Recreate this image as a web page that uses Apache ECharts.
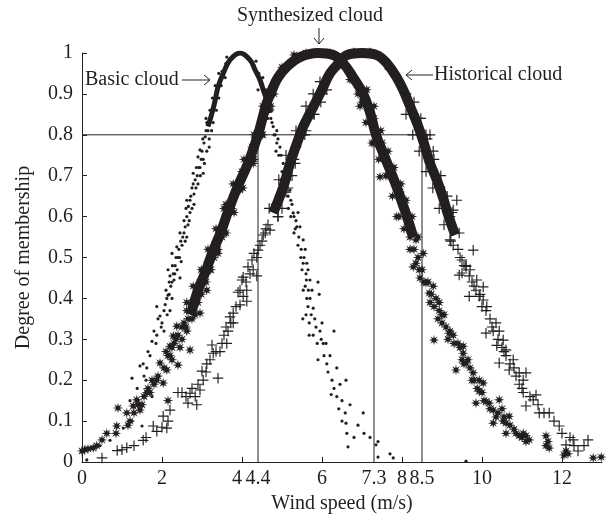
<!DOCTYPE html>
<html>
<head>
<meta charset="utf-8">
<script src="https://cdn.jsdelivr.net/npm/echarts@6/dist/echarts.min.js"></script>
<style>
  html, body { margin: 0; padding: 0; background: #fff; }
  #main { width: 612px; height: 526px; }
</style>
</head>
<body>
<div id="main"></div>
<script>
// axis ticks / labels
var xTickValues = [0, 2, 4, 6, 8, 10, 12];
var xLabelValues = [0, 2, 4, 4.4, 6, 7.3, 8, 8.5, 10, 12];
var cutLevel = 0.8;
var cutX = [4.4, 7.3, 8.5];

// basic cloud (dots)
var basicCore = [[3.15,0.82],[3.25,0.853],[3.33,0.885],[3.4,0.917],[3.53,0.95],[3.7,0.983],[3.95,1.0],[4.2,0.983],[4.33,0.958],[4.45,0.934],[4.53,0.91],[4.62,0.885],[4.7,0.853]];
var basicDrops = [
  [3.6,0.975],[3.8,0.995],[4.1,0.995],[4.3,0.97],[3.45,0.93],[3.3,0.87],[3.22,0.84],[4.5,0.92],[4.58,0.895],[4.66,0.87],[3.35,0.9],[3.5,0.955],
  [3.2,0.86],[3.28,0.83],[3.36,0.86],[3.26,0.89],[3.42,0.89],[3.33,0.92],[3.48,0.92],[3.42,0.95],[3.58,0.94],[3.62,0.99],[4.35,0.98],[4.42,0.95],
  [4.4,0.91],[4.52,0.94],[4.6,0.91],[4.56,0.87],[4.68,0.89],[4.64,0.84],[4.75,0.86],[3.18,0.79],[3.24,0.81],[3.1,0.84],
  [3.15,0.81],[3.08,0.795],[3.12,0.83],[3.05,0.78],[3.18,0.77],[3.0,0.76],[2.95,0.763],[3.03,0.74],[2.9,0.746],[3.03,0.706],[2.95,0.72],[2.88,0.7],
  [2.78,0.706],[2.83,0.69],[2.9,0.68],[2.75,0.67],[2.8,0.655],[2.7,0.64],[2.66,0.625],[2.75,0.62],[2.62,0.64],[2.62,0.6],[2.68,0.59],[2.58,0.575],
  [2.55,0.56],[2.62,0.55],[2.45,0.56],[2.5,0.53],[2.42,0.52],[2.37,0.526],[2.4,0.5],[2.48,0.49],[2.33,0.48],[2.25,0.51],[2.28,0.46],[2.3,0.445],
  [2.2,0.455],[2.45,0.45],[2.15,0.47],[2.22,0.43],[2.15,0.408],[2.12,0.4],[2.2,0.37],[2.08,0.385],
  [3.1,0.81],[3.02,0.79],[3.12,0.76],[2.98,0.74],[3.06,0.73],[2.92,0.72],[2.86,0.72],[2.96,0.7],[2.85,0.67],[2.78,0.68],[2.72,0.65],[2.8,0.63],
  [2.7,0.61],[2.6,0.62],[2.65,0.58],[2.55,0.59],[2.52,0.55],[2.58,0.54],[2.47,0.54],[2.44,0.5],[2.35,0.5],[2.38,0.47],[2.26,0.48],[2.32,0.46],
  [2.25,0.44],[2.18,0.44],[2.18,0.41],[2.1,0.42],[2.25,0.4],[2.05,0.37],[2.13,0.36],[1.98,0.33],[2.05,0.32],[1.9,0.35],[1.85,0.29],[1.7,0.26],
  [1.62,0.23],[1.55,0.21],[1.38,0.18],[1.2,0.15],
  [1.95,0.357],[2.0,0.34],[1.87,0.38],[1.87,0.31],[1.8,0.32],[1.75,0.295],[1.65,0.27],[1.53,0.24],[1.45,0.235],[1.25,0.205],[1.75,0.16],[1.5,0.088],
  [1.25,0.1],[1.03,0.083],[0.7,0.053],[0.45,0.04],[0.3,0.035],[0.2,0.034],[0.12,0.005],[0.05,0.03],[1.6,0.2],[1.4,0.15],
  [4.75,0.83],[4.8,0.8],[4.87,0.81],[4.87,0.78],[4.95,0.77],[4.92,0.75],[5.03,0.73],[5.0,0.71],[5.08,0.7],[5.12,0.68],[5.2,0.665],[5.15,0.65],
  [5.25,0.63],[5.28,0.609],[5.22,0.6],[5.35,0.59],[5.37,0.575],[5.3,0.56],[5.45,0.575],[5.42,0.55],[5.53,0.543],[5.48,0.52],[5.55,0.5],[5.53,0.486],
  [4.72,0.84],[4.78,0.82],[4.83,0.8],[4.9,0.79],[4.85,0.76],[4.98,0.75],[5.05,0.71],[4.97,0.69],[5.1,0.67],[5.18,0.69],[5.22,0.64],[5.16,0.62],
  [5.3,0.6],[5.4,0.61],[5.33,0.57],[5.4,0.53],[5.47,0.5],[5.58,0.52],[5.5,0.47],[5.65,0.47],[5.58,0.43],[5.75,0.42],[5.62,0.4],[5.73,0.36],
  [5.6,0.36],[5.82,0.35],[5.88,0.29],[6.05,0.26],[6.15,0.22],[6.3,0.18],[6.42,0.13],[6.5,0.1],[6.7,0.14],[6.8,0.06],
  [5.62,0.486],[5.6,0.46],[5.53,0.42],[5.61,0.445],[5.7,0.445],[5.66,0.42],[5.7,0.4],[5.78,0.376],[5.65,0.38],[5.9,0.44],[5.93,0.41],[5.52,0.35],
  [5.68,0.34],[5.68,0.31],[5.78,0.31],[5.85,0.33],[5.95,0.32],[5.98,0.3],[6.0,0.34],[6.03,0.29],[6.1,0.29],[5.9,0.25],[6.12,0.24],[6.2,0.26],
  [6.3,0.32],[6.25,0.2],[6.23,0.165],[6.37,0.23],[6.37,0.16],[6.45,0.19],[6.5,0.15],[6.6,0.2],[6.58,0.12],[6.6,0.095],[6.62,0.07],[6.65,0.037],
  [6.9,0.09],[7.03,0.12],[7.05,0.07],[7.2,0.06],[7.35,0.042],[7.4,0.05],[7.4,0.012],[7.7,0.02],[7.78,0.01],[9.6,0.002]
];

// synthesized cloud (asterisks)
var synthCore = [[2.72,0.36],[2.9,0.42],[3.1,0.468],[3.27,0.515],[3.47,0.562],[3.66,0.615],[3.9,0.675],[4.15,0.73],[4.4,0.8],[4.5,0.836],[4.62,0.878],[4.75,0.91],[4.9,0.94],[5.12,0.966],[5.45,0.99],[5.9,1.0],[6.28,0.995],[6.53,0.975],[6.78,0.94],[7.03,0.9],[7.2,0.855],[7.35,0.8],[7.53,0.755],[7.7,0.714],[7.87,0.672],[8.0,0.635],[8.15,0.592],[8.28,0.55]];
var synthDrops = [
  [2.98,0.47],[3.22,0.47],[3.15,0.52],[3.4,0.51],[3.35,0.57],[3.6,0.56],[3.55,0.62],[3.8,0.61],[3.78,0.68],[4.02,0.67],[4.05,0.74],[4.28,0.73],
  [4.3,0.8],[4.52,0.8],[4.52,0.87],[4.72,0.87],[2.62,0.37],[2.82,0.36],[2.78,0.43],[2.98,0.41],
  [7.12,0.91],[6.95,0.87],[7.3,0.87],[7.1,0.83],[7.47,0.81],[7.25,0.78],[7.65,0.76],[7.42,0.74],[7.8,0.72],[7.6,0.7],[7.97,0.68],[7.76,0.65],
  [8.1,0.64],[7.92,0.6],[8.25,0.6],[8.05,0.57],[8.4,0.55],[8.2,0.52],
  [3.55,0.56],[3.75,0.62],[3.6,0.63],[3.95,0.665],[4.0,0.71],[4.25,0.77],[4.3,0.74],[4.55,0.85],[4.5,0.8],[4.8,0.9],[5.0,0.965],[5.3,0.995],
  [5.6,1.0],[6.2,1.0],[6.5,0.985],[6.7,0.935],[6.9,0.9],[7.0,0.88],[7.3,0.84],[7.3,0.78],[7.45,0.697],[7.5,0.78],[7.65,0.7],[7.6,0.74],
  [7.8,0.69],[7.87,0.6],[7.95,0.66],[8.1,0.61],[8.18,0.567],[8.35,0.543],[8.28,0.477],
  [8.2,0.55],[8.3,0.52],[8.4,0.5],[8.45,0.45],[8.5,0.47],[8.55,0.44],[8.65,0.44],[8.7,0.39],[8.8,0.38],[8.85,0.4],[8.9,0.35],[9.0,0.36],
  [9.1,0.33],[9.15,0.3],[9.2,0.32],[9.3,0.29],[9.45,0.28],[9.5,0.25],[9.55,0.24],[9.7,0.23],[9.8,0.2],[9.88,0.18],[10.0,0.17],[10.05,0.15],
  [10.2,0.13],[10.35,0.11],[10.4,0.12],[10.55,0.11],[10.7,0.09],[10.8,0.08],[11.0,0.06],[11.1,0.05],[11.65,0.05],[12.15,0.02],
  [8.35,0.486],[8.43,0.47],[8.53,0.51],[8.6,0.438],[8.68,0.413],[8.73,0.41],[8.78,0.43],[8.8,0.298],[8.93,0.39],[8.93,0.37],[9.0,0.34],[9.05,0.36],
  [9.18,0.315],[9.28,0.31],[9.35,0.225],[9.4,0.29],[9.53,0.283],[9.53,0.266],[9.6,0.242],[9.65,0.25],[9.78,0.218],[9.75,0.2],[9.85,0.144],[9.93,0.2],
  [9.93,0.173],[10.03,0.193],[10.1,0.148],[10.18,0.144],[10.28,0.127],[10.28,0.095],[10.43,0.152],[10.5,0.13],[10.53,0.1],[10.6,0.095],[10.68,0.112],[10.6,0.07],
  [10.85,0.07],[10.93,0.064],[11.03,0.07],[11.1,0.064],[11.18,0.054],[11.6,0.064],[11.6,0.04],[11.68,0.034],[12.05,0.017],[12.1,0.027],[12.78,0.01],[12.98,0.012],
  [0.0,0.027],[0.07,0.03],[0.15,0.032],[0.28,0.034],[0.37,0.04],[0.5,0.054],[0.62,0.07],[0.85,0.07],[0.87,0.088],[0.9,0.132],[1.12,0.12],[1.15,0.09],
  [1.2,0.1],[1.28,0.137],[1.37,0.152],[1.3,0.12],[1.45,0.127],[1.5,0.14],[1.62,0.17],[1.7,0.17],[1.8,0.19],[1.87,0.2],[1.95,0.242],[2.03,0.193],
  [2.12,0.225],[2.15,0.15],[2.15,0.26],[2.2,0.283],[2.28,0.308],[2.37,0.332],[2.4,0.237],[2.45,0.28],[2.62,0.32],[2.7,0.274],[2.62,0.39],[2.78,0.38],
  [2.95,0.364],[2.95,0.438],[3.12,0.42],[3.2,0.47],[3.4,0.52],[2.5,0.33],[2.1,0.27],[2.25,0.25],
  [2.3,0.29],[2.35,0.3],[2.4,0.31],[2.5,0.3],[2.55,0.34],[2.6,0.33],[2.65,0.35],[2.75,0.35],[2.8,0.39],[2.85,0.4],[2.9,0.39],[3.0,0.44],
  [3.05,0.45],[3.1,0.44],[3.15,0.49],[3.22,0.5],[3.3,0.5],[3.35,0.54],[3.45,0.57],[3.5,0.55],[2.2,0.26],[2.05,0.23],[1.9,0.21],[1.75,0.2],
  [1.65,0.18],[1.55,0.16],[1.4,0.14],[2.25,0.28]
];

// historical cloud (plus)
var histCore = [[4.78,0.609],[5.03,0.672],[5.2,0.73],[5.45,0.8],[5.53,0.82],[5.7,0.853],[5.87,0.885],[6.03,0.917],[6.2,0.95],[6.37,0.97],[6.62,0.995],[7.0,1.0],[7.37,0.995],[7.62,0.975],[7.87,0.94],[8.03,0.91],[8.2,0.87],[8.37,0.83],[8.53,0.785],[8.7,0.73],[8.87,0.69],[9.03,0.645],[9.15,0.605],[9.33,0.555]];
var histDrops = [
  [4.68,0.62],[4.9,0.6],[4.92,0.69],[5.15,0.67],[5.1,0.75],[5.33,0.73],[5.35,0.81],[5.57,0.8],[5.6,0.87],[5.8,0.85],[5.78,0.9],[5.97,0.88],
  [5.95,0.93],[6.12,0.91],
  [8.3,0.88],[8.1,0.85],[8.47,0.84],[8.27,0.8],[8.63,0.79],[8.43,0.76],[8.8,0.74],[8.6,0.71],[8.97,0.7],[8.77,0.67],[9.13,0.65],[8.93,0.62],
  [9.25,0.61],[9.05,0.58],[9.43,0.56],[9.22,0.54],
  [4.9,0.6],[5.1,0.66],[5.3,0.74],[5.35,0.77],[5.6,0.81],[5.8,0.85],[6.0,0.9],[6.3,0.96],[6.8,1.0],[7.2,1.0],[7.7,0.96],[8.1,0.9],
  [8.4,0.84],[8.6,0.8],[8.7,0.8],[8.78,0.76],[8.95,0.672],[9.1,0.62],[9.2,0.6],[9.37,0.64],[9.28,0.616],[9.2,0.543],[9.28,0.53],[9.5,0.494],
  [9.6,0.478],[9.5,0.462],[9.78,0.518],[9.87,0.445],[10.03,0.428],
  [9.4,0.52],[9.45,0.5],[9.55,0.48],[9.7,0.47],[9.75,0.44],[9.8,0.43],[9.95,0.41],[10.0,0.38],[10.2,0.35],[10.25,0.33],[10.4,0.3],[10.5,0.28],
  [10.55,0.27],[10.7,0.24],[10.8,0.23],[10.85,0.21],[11.0,0.18],[11.2,0.16],[11.4,0.14],[11.55,0.12],[11.8,0.1],[12.0,0.07],[12.2,0.06],[12.3,0.04],[12.55,0.04],
  [9.43,0.457],[9.6,0.48],[9.68,0.455],[9.68,0.405],[9.85,0.42],[9.93,0.405],[10.03,0.396],[10.1,0.37],[10.12,0.38],[10.1,0.315],[10.28,0.32],[10.35,0.34],
  [10.43,0.32],[10.53,0.298],[10.37,0.285],[10.6,0.274],[10.6,0.26],[10.78,0.25],[10.43,0.242],[10.68,0.225],[10.93,0.218],[11.1,0.218],[11.03,0.2],[10.93,0.19],
  [11.03,0.17],[11.28,0.152],[11.35,0.164],[11.1,0.137],[11.43,0.12],[11.68,0.12],[11.93,0.088],[12.1,0.042],[12.28,0.054],[12.4,0.027],[12.65,0.054],
  [0.5,0.01],[0.88,0.028],[1.0,0.03],[1.12,0.035],[1.3,0.04],[1.53,0.053],[1.78,0.088],[1.87,0.075],[2.12,0.083],[2.03,0.112],[2.2,0.127],[2.5,0.17],
  [2.7,0.168],[2.65,0.144],[2.87,0.14],[2.83,0.16],[2.95,0.176],[3.03,0.2],[3.0,0.222],[3.12,0.24],[3.28,0.266],[3.25,0.286],[3.4,0.205],[3.45,0.27],
  [3.62,0.29],[3.65,0.32],[3.6,0.33],[3.78,0.34],[3.78,0.364],[3.7,0.355],[3.95,0.384],[4.03,0.405],[4.12,0.393],[4.0,0.445],[4.12,0.42],[3.9,0.415],
  [4.03,0.452],[4.15,0.477],[4.25,0.494],[4.28,0.47],[4.37,0.455],[4.37,0.5],[4.4,0.518],[4.5,0.54],[4.53,0.555],[4.58,0.56],[4.65,0.58],[4.7,0.567],
  [4.6,0.57],[4.45,0.53],[4.3,0.51],[4.2,0.46],[4.1,0.44],[3.95,0.42],[3.85,0.38],[3.72,0.34],[3.55,0.31],[3.5,0.29],[3.35,0.27],[3.2,0.25],
  [3.1,0.22],[2.9,0.19],[2.75,0.18],[2.6,0.16],[2.4,0.17],[2.15,0.1],[2.0,0.085],[1.6,0.06],[4.85,0.63],[4.95,0.65],[5.0,0.62],[5.15,0.7],[5.25,0.7]
];

var ink = '#231f20';
var serif = '"Liberation Serif", "Times New Roman", serif';
var asterisk = 'path://M10 5 L6.85 5.77 L8.54 8.54 L5.77 6.85 L5 10 L4.23 6.85 L1.46 8.54 L3.15 5.77 L0 5 L3.15 4.23 L1.46 1.46 L4.23 3.15 L5 0 L5.77 3.15 L8.54 1.46 L6.85 4.23 Z';
var plus = 'path://M4.45 0 H5.55 V4.45 H10 V5.55 H5.55 V10 H4.45 V5.55 H0 V4.45 H4.45 Z';

var guideSeries = [{
    type: 'line',
    data: [[0, cutLevel], [cutX[cutX.length - 1], cutLevel]],
    symbol: 'none', silent: true, z: 1,
    lineStyle: { color: ink, width: 1 }
}];
cutX.forEach(function (x) {
    guideSeries.push({
        type: 'line',
        data: [[x, 0], [x, cutLevel]],
        symbol: 'none', silent: true, z: 1,
        lineStyle: { color: ink, width: 1 }
    });
});

function coreLine(data, width) {
    return {
        type: 'line', data: data, smooth: 0.4, symbol: 'none', z: 2,
        lineStyle: { color: ink, width: width, cap: 'butt', join: 'round' }
    };
}

function dropSeries(data, symbol, size) {
    return {
        type: 'scatter', data: data, symbol: symbol, symbolSize: size, z: 3,
        itemStyle: { color: ink, opacity: 1 }
    };
}

var option = {
    animation: false,
    backgroundColor: '#fff',
    grid: { left: 82, right: 10, top: 53, bottom: 64 },
    xAxis: {
        type: 'value', min: 0, max: 13,
        name: 'Wind speed (m/s)', nameLocation: 'middle', nameGap: 30,
        nameTextStyle: { fontFamily: serif, fontSize: 20, color: ink },
        axisLine: { lineStyle: { color: ink, width: 1 } },
        axisTick: { inside: true, length: 5, customValues: xTickValues, lineStyle: { color: ink } },
        axisLabel: {
            customValues: xLabelValues, fontFamily: serif, fontSize: 20, color: ink, margin: 7,
            formatter: function (v) { return v === 4 ? '4\u2002' : String(v); }
        },
        splitLine: { show: false }
    },
    yAxis: {
        type: 'value', min: 0, max: 1, interval: 0.1,
        name: 'Degree of membership', nameLocation: 'middle', nameGap: 48,
        nameTextStyle: { fontFamily: serif, fontSize: 20, color: ink },
        axisLine: { show: true, lineStyle: { color: ink, width: 1 } },
        axisTick: { show: true, inside: true, length: 5, lineStyle: { color: ink } },
        axisLabel: {
            fontFamily: serif, fontSize: 20, color: ink, margin: 9,
            formatter: function (v) { return String(+v.toFixed(1)); }
        },
        splitLine: { show: false }
    },
    graphic: [
        { type: 'text', x: 310, y: 16, style: { text: 'Synthesized cloud', font: '20px ' + serif, fill: ink, align: 'center', verticalAlign: 'middle' } },
        { type: 'line', shape: { x1: 319, y1: 28, x2: 319, y2: 44 }, style: { stroke: ink, lineWidth: 1 } },
        { type: 'polyline', shape: { points: [[314, 38], [319, 44], [324, 38]] }, style: { stroke: ink, fill: null, lineWidth: 1 } },
        { type: 'text', x: 85, y: 80, style: { text: 'Basic cloud', font: '20px ' + serif, fill: ink, align: 'left', verticalAlign: 'middle' } },
        { type: 'line', shape: { x1: 182, y1: 80, x2: 210, y2: 80 }, style: { stroke: ink, lineWidth: 1 } },
        { type: 'polyline', shape: { points: [[204, 75], [210, 80], [204, 85]] }, style: { stroke: ink, fill: null, lineWidth: 1 } },
        { type: 'text', x: 434, y: 75, style: { text: 'Historical cloud', font: '20px ' + serif, fill: ink, align: 'left', verticalAlign: 'middle' } },
        { type: 'line', shape: { x1: 406, y1: 75, x2: 433, y2: 75 }, style: { stroke: ink, lineWidth: 1 } },
        { type: 'polyline', shape: { points: [[412, 70], [406, 75], [412, 80]] }, style: { stroke: ink, fill: null, lineWidth: 1 } }
    ],
    series: guideSeries.concat([
        coreLine(basicCore, 5),
        coreLine(synthCore, 10),
        coreLine(histCore, 10),
        dropSeries(basicDrops, 'circle', 3.2),
        dropSeries(synthDrops, asterisk, 10.5),
        dropSeries(histDrops, plus, 10.5)
    ])
};

var myChart = echarts.init(document.getElementById('main'));
myChart.setOption(option);
</script>
</body>
</html>
